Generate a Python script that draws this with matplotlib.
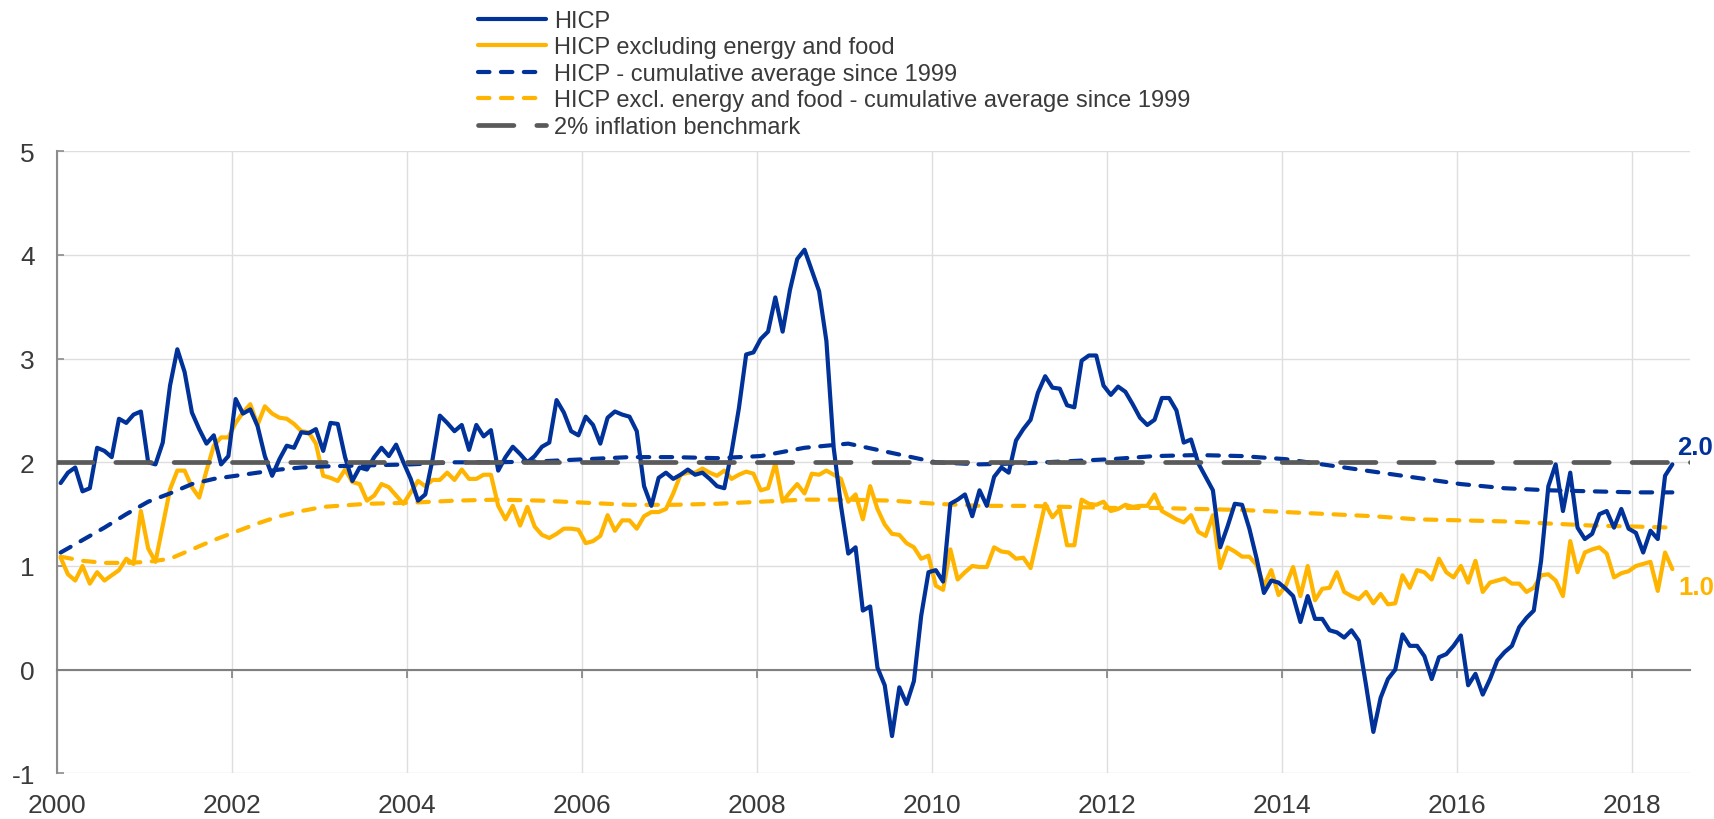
import numpy as np
import matplotlib
matplotlib.use("Agg")
import matplotlib.pyplot as plt

plt.rcParams['font.family'] = ['Liberation Sans', 'DejaVu Sans']

# ---------------- data (monthly, Jan 2000 - Jun 2018) ----------------
start_year = 2000
hicp = [
    1.80, 1.90, 1.95, 1.72, 1.75, 2.14, 2.11, 2.05, 2.42, 2.38, 2.46, 2.49,
    2.00, 1.98, 2.19, 2.74, 3.09, 2.87, 2.48, 2.32, 2.18, 2.26, 1.98, 2.06,
    2.61, 2.47, 2.51, 2.35, 2.06, 1.87, 2.03, 2.16, 2.14, 2.29, 2.28, 2.32,
    2.11, 2.38, 2.37, 2.05, 1.82, 1.95, 1.93, 2.05, 2.14, 2.06, 2.17, 2.00,
    1.84, 1.63, 1.69, 2.03, 2.45, 2.38, 2.30, 2.36, 2.12, 2.36, 2.25, 2.31,
    1.92, 2.05, 2.15, 2.08, 2.00, 2.06, 2.15, 2.19, 2.60, 2.48, 2.30, 2.26,
    2.44, 2.36, 2.18, 2.43, 2.49, 2.46, 2.44, 2.30, 1.77, 1.58, 1.85, 1.90,
    1.84, 1.88, 1.93, 1.88, 1.90, 1.84, 1.77, 1.75, 2.10, 2.52, 3.04, 3.06,
    3.19, 3.26, 3.59, 3.26, 3.66, 3.96, 4.05, 3.85, 3.65, 3.17, 2.14, 1.58,
    1.12, 1.18, 0.57, 0.61, 0.02, -0.15, -0.64, -0.17, -0.33, -0.11, 0.52, 0.94,
    0.96, 0.85, 1.60, 1.64, 1.69, 1.48, 1.73, 1.58, 1.86, 1.95, 1.90, 2.21,
    2.32, 2.41, 2.67, 2.83, 2.72, 2.71, 2.55, 2.53, 2.98, 3.03, 3.03, 2.74,
    2.65, 2.73, 2.68, 2.56, 2.43, 2.36, 2.41, 2.62, 2.62, 2.50, 2.19, 2.22,
    1.99, 1.86, 1.73, 1.18, 1.38, 1.60, 1.59, 1.36, 1.07, 0.74, 0.86, 0.84,
    0.78, 0.71, 0.46, 0.71, 0.49, 0.49, 0.38, 0.36, 0.31, 0.38, 0.28, -0.15,
    -0.60, -0.27, -0.09, 0.00, 0.34, 0.23, 0.23, 0.13, -0.09, 0.12, 0.15, 0.23,
    0.33, -0.15, -0.04, -0.24, -0.09, 0.09, 0.17, 0.23, 0.41, 0.50, 0.57, 1.05,
    1.77, 1.98, 1.53, 1.90, 1.37, 1.26, 1.31, 1.50, 1.53, 1.37, 1.55, 1.36,
    1.32, 1.13, 1.34, 1.26, 1.87, 1.98,
]
core = [
    1.08, 0.92, 0.86, 1.00, 0.83, 0.94, 0.86, 0.91, 0.96, 1.07, 1.02, 1.53,
    1.17, 1.04, 1.39, 1.74, 1.92, 1.92, 1.76, 1.66, 1.92, 2.16, 2.24, 2.24,
    2.38, 2.48, 2.56, 2.36, 2.54, 2.47, 2.43, 2.42, 2.37, 2.30, 2.29, 2.18,
    1.87, 1.85, 1.82, 1.93, 1.81, 1.79, 1.63, 1.68, 1.79, 1.76, 1.68, 1.60,
    1.71, 1.82, 1.77, 1.83, 1.83, 1.90, 1.83, 1.93, 1.84, 1.84, 1.88, 1.88,
    1.58, 1.45, 1.58, 1.39, 1.57, 1.38, 1.30, 1.27, 1.31, 1.36, 1.36, 1.35,
    1.22, 1.24, 1.29, 1.49, 1.34, 1.44, 1.44, 1.36, 1.48, 1.52, 1.52, 1.55,
    1.70, 1.88, 1.90, 1.90, 1.94, 1.90, 1.87, 1.92, 1.84, 1.88, 1.91, 1.89,
    1.73, 1.75, 1.99, 1.62, 1.71, 1.79, 1.70, 1.89, 1.88, 1.92, 1.88, 1.84,
    1.62, 1.69, 1.45, 1.77, 1.55, 1.40, 1.31, 1.30, 1.22, 1.18, 1.07, 1.10,
    0.81, 0.77, 1.16, 0.87, 0.94, 1.00, 0.99, 0.99, 1.18, 1.14, 1.13, 1.07,
    1.08, 0.98, 1.29, 1.60, 1.47, 1.55, 1.20, 1.20, 1.64, 1.60, 1.59, 1.62,
    1.53, 1.55, 1.59, 1.57, 1.58, 1.58, 1.69, 1.53, 1.49, 1.45, 1.42, 1.49,
    1.33, 1.29, 1.49, 0.98, 1.18, 1.14, 1.09, 1.09, 1.01, 0.81, 0.96, 0.72,
    0.81, 0.99, 0.71, 1.00, 0.67, 0.78, 0.79, 0.94, 0.75, 0.71, 0.68, 0.75,
    0.64, 0.73, 0.63, 0.64, 0.91, 0.79, 0.96, 0.94, 0.87, 1.07, 0.94, 0.89,
    1.00, 0.84, 1.05, 0.75, 0.84, 0.86, 0.88, 0.83, 0.83, 0.75, 0.79, 0.91,
    0.92, 0.86, 0.71, 1.24, 0.94, 1.13, 1.16, 1.18, 1.12, 0.89, 0.93, 0.95,
    1.00, 1.02, 1.04, 0.76, 1.13, 0.97,
]
# cumulative averages since 1999, read at selected months (index from Jan 2000)
cum_idx = [0, 3, 6, 9, 12, 15, 18, 21, 24, 27, 30, 33, 36,
           42, 48, 54, 60, 66, 72, 78, 84, 90, 96, 102, 108, 114, 120,
           126, 132, 138, 144, 150, 156, 162, 168, 174, 180, 186, 192,
           198, 204, 210, 216, 221]
hicp_cum = [1.13, 1.25, 1.37, 1.50, 1.62, 1.70, 1.79, 1.84, 1.87, 1.90, 1.93, 1.95, 1.96,
            1.97, 1.98, 2.00, 2.00, 2.01, 2.03, 2.05, 2.05, 2.04, 2.06, 2.14, 2.18, 2.09, 2.00,
            1.98, 1.99, 2.01, 2.03, 2.06, 2.07, 2.06, 2.03, 1.97, 1.91, 1.85, 1.79,
            1.75, 1.73, 1.72, 1.71, 1.71]
core_cum = [1.09, 1.05, 1.03, 1.03, 1.04, 1.07, 1.16, 1.25, 1.33, 1.41, 1.48, 1.53, 1.57,
            1.60, 1.61, 1.63, 1.64, 1.63, 1.61, 1.59, 1.59, 1.60, 1.62, 1.64, 1.64, 1.63, 1.60,
            1.58, 1.58, 1.57, 1.56, 1.56, 1.55, 1.54, 1.52, 1.50, 1.48, 1.45, 1.44,
            1.43, 1.41, 1.39, 1.38, 1.37]
benchmark = 2.0

labels = ["HICP", "HICP excluding energy and food",
          "HICP - cumulative average since 1999",
          "HICP excl. energy and food - cumulative average since 1999",
          "2% inflation benchmark"]
x_ticks = list(range(2000, 2019, 2))
y_ticks = list(range(-1, 6))

BLUE = "#003299"
YELLOW = "#FFB400"
GREY = "#5a5a5a"
TXT = "#3a3a3a"

# ---------------- figure ----------------
W, H = 1715, 820
fig = plt.figure(figsize=(W / 100, H / 100), dpi=100)
ax = fig.add_axes([57 / W, 1 - 774.4 / H, (1690 - 57) / W, (774.4 - 152.2) / H])

xm = start_year + (np.arange(len(hicp)) + 0.5) / 12
xc = start_year + (np.array(cum_idx) + 0.5) / 12

l1, = ax.plot(xm, hicp, color=BLUE, lw=3.0, solid_joinstyle='round',
              solid_capstyle='round', zorder=4)
l2, = ax.plot(xm, core, color=YELLOW, lw=3.0, solid_joinstyle='round',
              solid_capstyle='round', zorder=3)
l3, = ax.plot(xc, hicp_cum, color=BLUE, lw=3.0, dashes=(2.75, 2.75),
              dash_capstyle='round', zorder=4)
l4, = ax.plot(xc, core_cum, color=YELLOW, lw=3.0, dashes=(2.75, 2.75),
              dash_capstyle='round', zorder=3)
l5 = ax.axhline(benchmark, color=GREY, lw=3.4, dashes=(7.5, 4.85),
                dash_capstyle='round', zorder=5)

ax.set_xlim(2000, 2018.66)
ax.set_ylim(-1, 5)
ax.set_xticks(x_ticks)
ax.set_xticklabels([str(t) for t in x_ticks])
ax.set_yticks(y_ticks)
ax.set_yticklabels([str(t) for t in y_ticks])

ax.grid(True, color="#dedede", lw=1.0, zorder=0)
ax.set_axisbelow(True)
for s in ("top", "right"):
    ax.spines[s].set_visible(False)
ax.spines["bottom"].set_position(("data", 0))
ax.spines["bottom"].set_color("#808080")
ax.spines["bottom"].set_linewidth(1.5)
ax.spines["left"].set_color("#8c8c8c")
ax.spines["left"].set_linewidth(1.5)

ax.tick_params(axis="x", direction="out", length=5.5, width=1.2, color="#808080",
               pad=83, labelsize=19, labelcolor=TXT)
ax.tick_params(axis="y", direction="in", length=5, width=1.2, color="#8c8c8c",
               pad=16, labelsize=19, labelcolor=TXT)

# end-of-series value labels
ax.annotate(f"{hicp[-1]:.1f}", xy=(xm[-1], hicp[-1]), xytext=(3.6, 12.3),
            textcoords="offset points", color=BLUE, fontweight="bold",
            fontsize=18.5, ha="left", va="center", annotation_clip=False)
ax.annotate(f"{core[-1]:.1f}", xy=(xm[-1], core[-1]), xytext=(4.3, -13),
            textcoords="offset points", color=YELLOW, fontweight="bold",
            fontsize=18.5, ha="left", va="center", annotation_clip=False)

fig.legend([l1, l2, l3, l4, l5], labels, loc="upper left",
           bbox_to_anchor=(478 / W, 1 - 11 / H), frameon=False, fontsize=17,
           handlelength=2.9, handletextpad=0.33, labelspacing=0.19,
           borderpad=0, borderaxespad=0, labelcolor=TXT)

fig.savefig("out.png", dpi=100)
